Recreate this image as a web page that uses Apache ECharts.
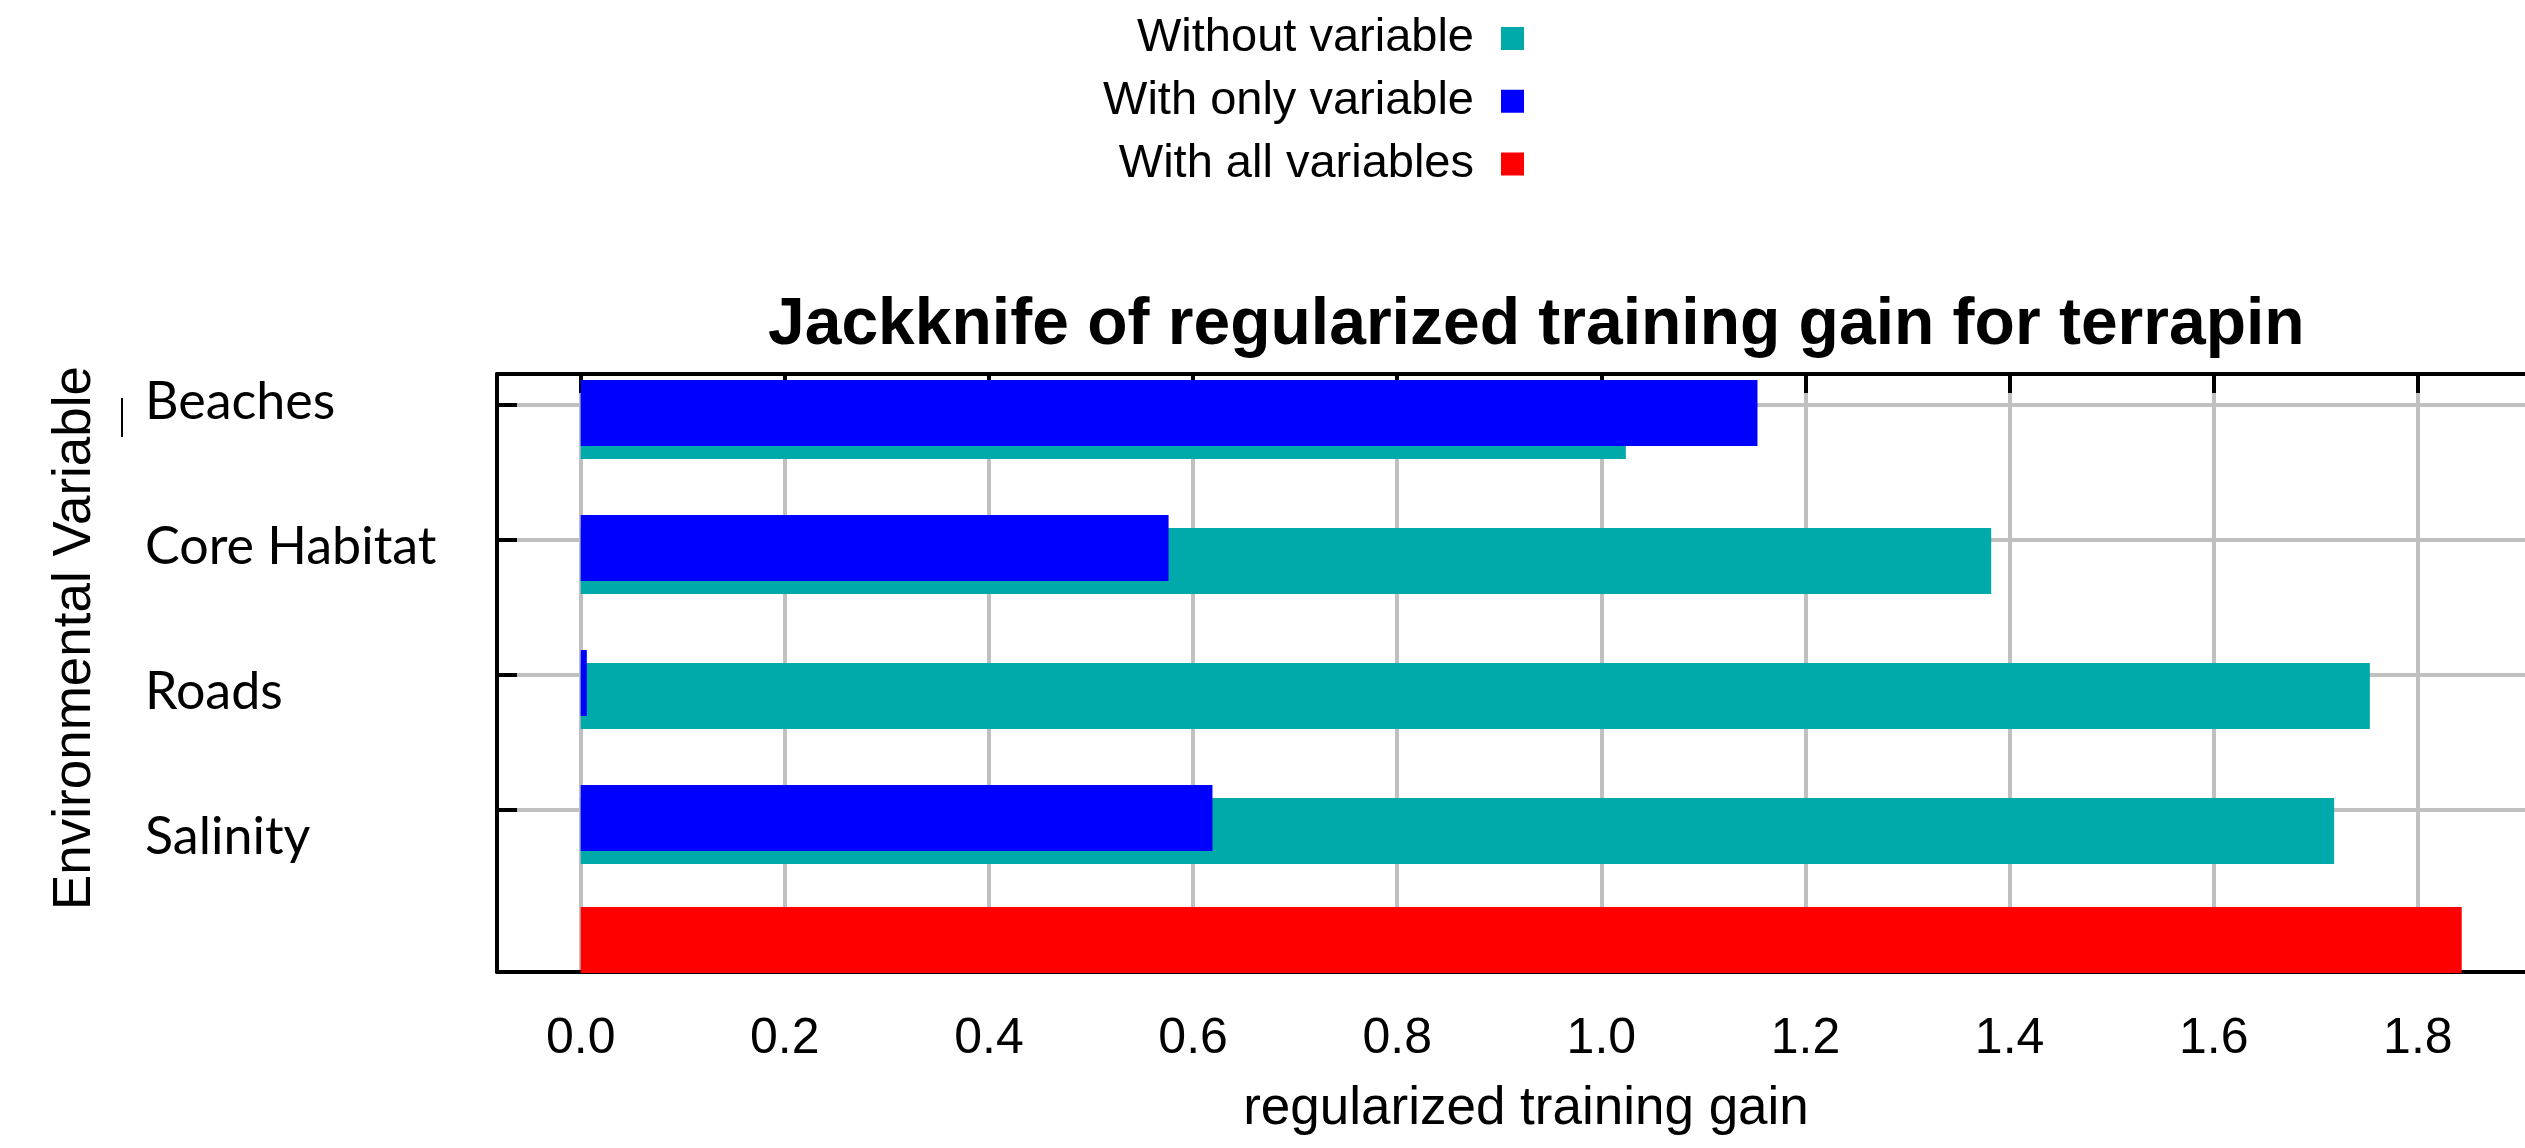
<!DOCTYPE html>
<html>
<head>
<meta charset="utf-8">
<title>Jackknife of regularized training gain for terrapin</title>
<script src="https://cdn.jsdelivr.net/npm/echarts@6/dist/echarts.min.js"></script>
<style>
  html, body { margin: 0; padding: 0; background: #fff; }
  #graficoJackknife { width: 2525px; height: 1148px; }
</style>
</head>
<body>
<div id="graficoJackknife"></div>
<script>
// Datos
var variables = ["Beaches", "Core Habitat", "Roads", "Salinity"];
var withoutVariable = [1.024, 1.382, 1.753, 1.718];
var withOnlyVariable = [1.153, 0.576, 0.006, 0.619];
var withAllVariables = 1.843;
var gainTicks = [0, 0.2, 0.4, 0.6, 0.8, 1.0, 1.2, 1.4, 1.6, 1.8];
var variableTicks = [0, 1, 2, 3];

// Rango de los ejes (el marco empieza un poco antes de 0)
var gainMin = -0.082;
var gainMax = 1.905;
var rowMin = -0.226;
var rowMax = 4.204;

var font = "Liberation Sans";
var gris = "#C0C0C0";

// La fila "todas las variables" va al final, solo con la barra roja
var barCategories = variables.concat(["All variables"]);
var allData = variables.map(function () { return "-"; }).concat([withAllVariables]);
var onlyData = withOnlyVariable.concat(["-"]);
var withoutData = withoutVariable.concat(["-"]);

function updateJackknife() {
  var optionJackknife = {
    animation: false,
    title: {
      text: "Jackknife of regularized training gain for terrapin",
      left: 768,
      top: 293,
      padding: 0,
      textStyle: { fontFamily: font, fontSize: 66, lineHeight: 66, fontWeight: "bold", color: "#000" },
    },
    legend: {
      orient: "vertical",
      right: 1001,
      top: 15,
      padding: 0,
      align: "right",
      icon: "rect",
      itemWidth: 23,
      itemHeight: 23,
      itemGap: 15.75,
      selectedMode: false,
      data: ["Without variable", "With only variable", "With all variables"],
      textStyle: {
        fontFamily: font,
        fontSize: 47,
        lineHeight: 46,
        color: "#000",
        width: 400,
        align: "right",
        overflow: "none",
        padding: [0, 22, 0, 0],
      },
    },
    grid: [
      { left: 497, right: 0, top: 374, bottom: 176 }, // marco
      { left: 497, right: 0, top: 345.5, height: 675 }, // barras
      { left: 497, right: 0, top: 329.5, height: 580 }, // nombres
    ],
    xAxis: [
      {
        gridIndex: 0,
        type: "value",
        position: "bottom",
        min: gainMin,
        max: gainMax,
        name: "regularized training gain",
        nameLocation: "middle",
        nameGap: 111,
        nameTextStyle: { fontFamily: font, fontSize: 53, lineHeight: 53, color: "#000", padding: [0, 0, 0, 30] },
        axisLine: { show: true, onZero: false, lineStyle: { color: "#000", width: 4 } },
        axisTick: { show: false, customValues: gainTicks },
        axisLabel: {
          customValues: gainTicks,
          margin: 42,
          fontFamily: font,
          fontSize: 50,
          lineHeight: 50,
          color: "#000",
          formatter: function (v) { return v.toFixed(1); },
        },
        splitLine: { show: true, lineStyle: { color: gris, width: 4 } },
      },
      {
        gridIndex: 0,
        type: "value",
        position: "top",
        min: gainMin,
        max: gainMax,
        axisLine: { show: true, onZero: false, lineStyle: { color: "#000", width: 4 } },
        axisTick: { show: true, inside: true, length: 19, customValues: gainTicks, lineStyle: { color: "#000", width: 4 } },
        axisLabel: { show: false },
        splitLine: { show: false },
      },
      { gridIndex: 1, type: "value", min: gainMin, max: gainMax, show: false },
      { gridIndex: 2, type: "value", min: gainMin, max: gainMax, show: false },
    ],
    yAxis: [
      {
        gridIndex: 0,
        type: "value",
        inverse: true,
        min: rowMin,
        max: rowMax,
        axisLine: { show: true, onZero: false, lineStyle: { color: "#000", width: 4 } },
        axisTick: { show: true, inside: true, length: 20, customValues: variableTicks, lineStyle: { color: "#000", width: 4 } },
        axisLabel: { show: false },
        splitLine: { show: true, lineStyle: { color: gris, width: 4 } },
      },
      {
        gridIndex: 1,
        type: "category",
        inverse: true,
        data: barCategories,
        show: false,
      },
      {
        gridIndex: 2,
        type: "category",
        inverse: true,
        data: variables,
        axisLine: { show: false },
        axisTick: { show: false },
        splitLine: { show: false },
        axisLabel: {
          align: "left",
          margin: 352,
          fontFamily: "Lato",
          fontSize: 52,
          color: "#000",
        },
      },
    ],
    series: [
      {
        name: "With all variables",
        type: "bar",
        xAxisIndex: 2,
        yAxisIndex: 1,
        barWidth: 66,
        barGap: "-80.3%",
        itemStyle: { color: "#FF0000" },
        data: allData,
      },
      {
        name: "With only variable",
        type: "bar",
        xAxisIndex: 2,
        yAxisIndex: 1,
        barWidth: 66,
        barGap: "-80.3%",
        z: 3,
        itemStyle: { color: "#0000FF" },
        data: onlyData,
      },
      {
        name: "Without variable",
        type: "bar",
        xAxisIndex: 2,
        yAxisIndex: 1,
        barWidth: 66,
        barGap: "-80.3%",
        itemStyle: { color: "#00AAAA" },
        data: withoutData,
      },
    ],
    graphic: [
      {
        type: "text",
        x: 75,
        y: 638,
        rotation: Math.PI / 2,
        style: {
          text: "Environmental Variable",
          fontFamily: font,
          fontSize: 53,
          fill: "#000",
          align: "center",
          verticalAlign: "middle",
        },
      },
      {
        type: "line",
        shape: { x1: 122, y1: 398, x2: 122, y2: 437 },
        style: { stroke: "#000", lineWidth: 2 },
      },
    ],
  };

  var chartJackknife = echarts.init(document.getElementById("graficoJackknife"));
  chartJackknife.setOption(optionJackknife);
}

updateJackknife();
</script>
</body>
</html>
